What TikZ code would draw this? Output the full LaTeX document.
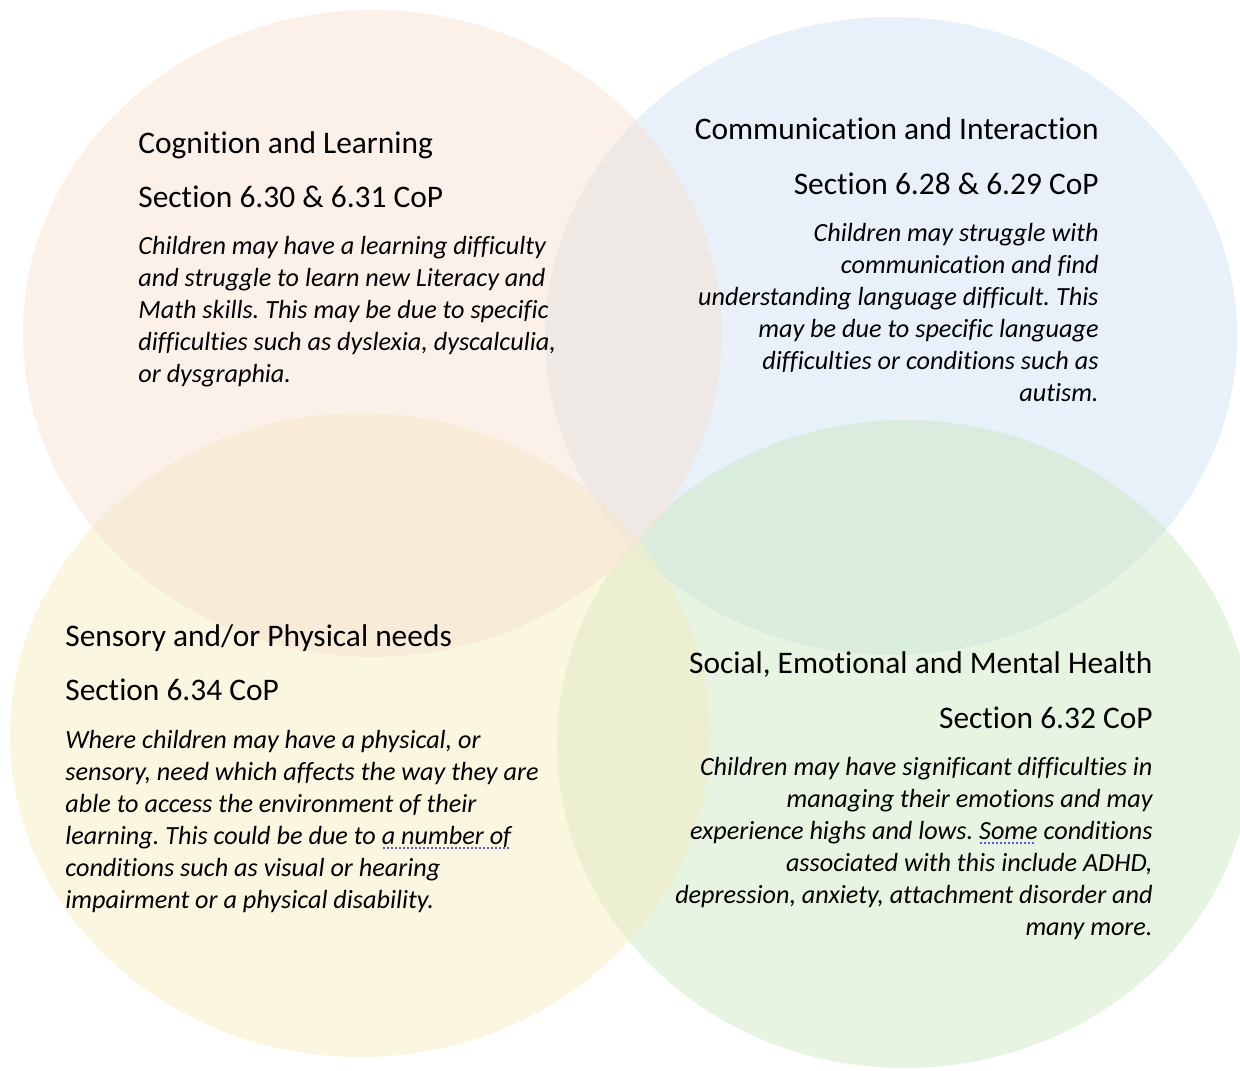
\documentclass[tikz,border=0pt]{standalone}
\usepackage{fontspec}
\setmainfont{Carlito}[Ligatures=NoCommon]
\usepackage{xcolor}
\usepackage{tikz}
\usetikzlibrary{positioning}
\definecolor{peachfill}{RGB}{247,227,211}
\definecolor{bluefill}{RGB}{209,225,243}
\definecolor{yellowfill}{RGB}{245,237,193}
\definecolor{greenfill}{RGB}{205,233,195}
\definecolor{gramblue}{RGB}{100,85,240}
\newcommand{\gramline}[1]{\leavevmode\setbox0\hbox{#1}\rlap{\color{gramblue}\raisebox{-2.4pt}{\hbox to \wd0{\leaders\hbox to 2pt{\hss\rule{1.2pt}{1.2pt}\hss}\hfill}}}\box0\relax}
\frenchspacing

\begin{document}
\begin{tikzpicture}[
  x=0.5pt, y=-0.5pt,
  venn/.style={fill opacity=0.5, draw=none},
  heading/.style={inner sep=0, font=\fontsize{15.7}{18}\selectfont},
  blurb/.style={inner sep=0, font=\fontsize{13.1}{16}\selectfont\itshape}
]
\useasboundingbox (0,0) rectangle (1240,1070);
\clip (0,0) rectangle (1240,1070);

% Circles
\fill[venn, bluefill] (891,336) ellipse [x radius=346, y radius=319];
\fill[venn, greenfill] (905,744) ellipse [x radius=348, y radius=324];
\fill[venn, yellowfill] (360,735) ellipse [x radius=350, y radius=322];
\fill[venn, peachfill] (372.5,333.5) ellipse [x radius=349.5, y radius=323.5];

% Cognition and Learning
\node[heading, anchor=base west] (cogtitle) at (138,153) {Cognition and Learning};
\node[heading, anchor=base west] (cogsec) at (138,207) {Section 6.30 \& 6.31 CoP};
\node[blurb, anchor=north west, align=left] (cogtext) at (138,236) {Children may have a learning difficulty\\and struggle to learn new Literacy and\\Math skills. This may be due to specific\\difficulties such as dyslexia, dyscalculia,\\or dysgraphia.};

% Communication and Interaction
\node[heading, anchor=base east] (comtitle) at (1099,139) {Communication and Interaction};
\node[heading, anchor=base east] (comsec) at (1099,194) {Section 6.28 \& 6.29 CoP};
\node[blurb, anchor=north east, align=right] (comtext) at (1099,223) {Children may struggle with\\communication and find\\understanding language difficult. This\\may be due to specific language\\difficulties or conditions such as\\autism.};

% Sensory and/or Physical needs
\node[heading, anchor=base west] (sentitle) at (65,646) {Sensory and/or Physical needs};
\node[heading, anchor=base west] (sensec) at (65,700) {Section 6.34 CoP};
\node[blurb, anchor=north west, align=left] (sentext) at (65,730) {Where children may have a physical, or\\sensory, need which affects the way they are\\able to access the environment of their\\learning. This could be due to \gramline{a number of}\\conditions such as visual or hearing\\impairment or a physical disability.};

% Social, Emotional and Mental Health
\node[heading, anchor=base east] (soctitle) at (1153,673) {Social, Emotional and Mental Health};
\node[heading, anchor=base east] (socsec) at (1153,728) {Section 6.32 CoP};
\node[blurb, anchor=north east, align=right] (soctext) at (1153,757) {Children may have significant difficulties in\\managing their emotions and may\\experience highs and lows. \gramline{Some} conditions\\associated with this include ADHD,\\depression, anxiety, attachment disorder and\\many more.};

\end{tikzpicture}
\end{document}
